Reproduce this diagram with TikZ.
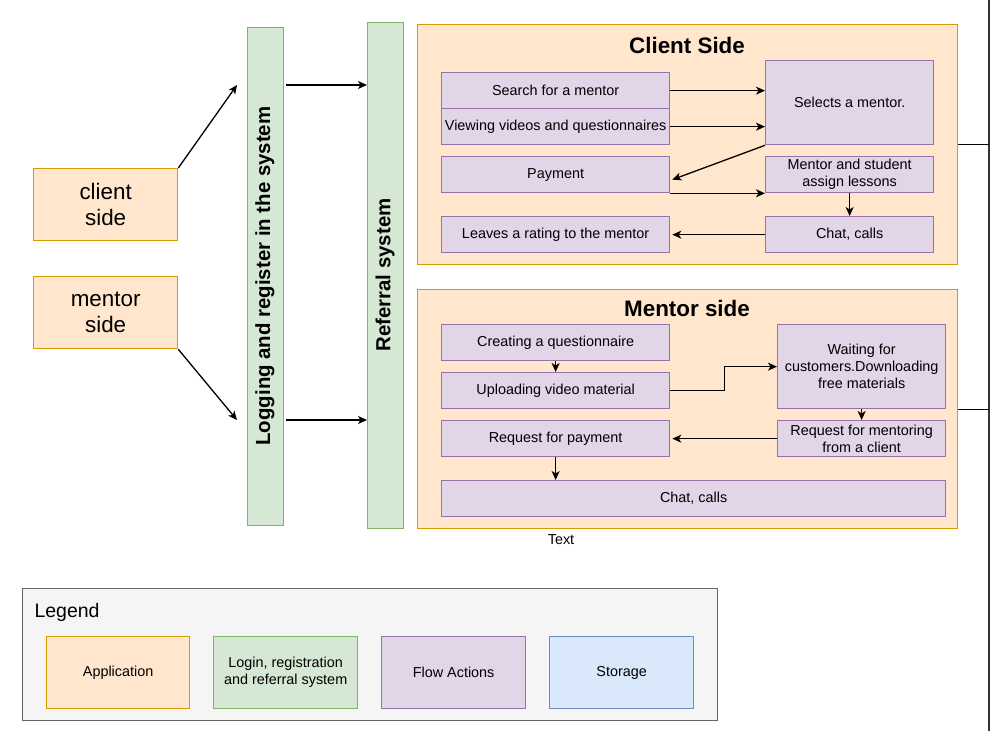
\documentclass[tikz,border=0pt]{standalone}
\usepackage{fontspec}
\setmainfont{Liberation Sans}
\usetikzlibrary{arrows.meta}
\definecolor{appfill}{HTML}{FFE6CC}
\definecolor{appline}{HTML}{D79B00}
\definecolor{logfill}{HTML}{D5E8D4}
\definecolor{logline}{HTML}{82B366}
\definecolor{flowfill}{HTML}{E1D5E7}
\definecolor{flowline}{HTML}{9673A6}
\definecolor{storefill}{HTML}{DAE8FC}
\definecolor{storeline}{HTML}{6C8EBF}
\definecolor{legfill}{HTML}{F5F5F5}
\definecolor{legline}{HTML}{666666}
\definecolor{railline}{HTML}{333333}
\newcommand{\smalltxt}{\fontsize{14.4}{17}\selectfont}
\newcommand{\bigtxt}{\fontsize{22.4}{26}\selectfont}
\tikzset{
  app/.style={draw=appline,fill=appfill,line width=1.3pt,anchor=north west,align=center,inner sep=0pt},
  login/.style={draw=logline,fill=logfill,line width=1.3pt,anchor=north west,align=center,inner sep=0pt},
  flow/.style={draw=flowline,fill=flowfill,line width=1.3pt,anchor=north west,align=center,inner sep=0pt,font=\smalltxt},
  storage/.style={draw=storeline,fill=storefill,line width=1.3pt,anchor=north west,align=center,inner sep=0pt,font=\smalltxt},
  title/.style={font=\bfseries\bigtxt},
  bartext/.style={rotate=90,font=\bfseries\fontsize{20.4}{24}\selectfont},
  link/.style={->,line width=1.3pt}
}
\begin{document}
\begin{tikzpicture}[x=1pt,y=-1pt,>={Stealth[length=9pt,width=8pt,inset=2.5pt]}]
\useasboundingbox (0,0) rectangle (991,731);
% left side
\node[app,minimum width=144pt,minimum height=72pt,font=\bigtxt] (clientbox) at (33,168) {client\\side};
\node[app,minimum width=144pt,minimum height=72pt,font=\bigtxt] (mentorbox) at (33,276) {mentor\\side};
\node[login,minimum width=36pt,minimum height=498pt] (logbar) at (247,27) {};
\node[bartext] (logtext) at (265,276) {Logging and register in the system};
\node[login,minimum width=36pt,minimum height=506pt] (refbar) at (367,22) {};
\node[bartext] (reftext) at (385,275) {Referral system};
\coordinate (cin) at (237,85);
\coordinate (min) at (237,420);
\draw[link] (clientbox.north east) -- (cin);
\draw[link] (mentorbox.south east) -- (min);
\draw[link] ([xshift=2pt]logbar.east |- cin) -- (refbar.west |- cin);
\draw[link] ([xshift=2pt]logbar.east |- min) -- (refbar.west |- min);
% client side
\node[app,minimum width=540pt,minimum height=240pt] (client) at (417,24) {};
\node[title] (clienttitle) at (687,45) {Client Side};
\node[flow,minimum width=228pt,minimum height=36pt] (search) at (441,72) {Search for a mentor};
\node[flow,minimum width=228pt,minimum height=36pt] (view) at (441,108) {Viewing videos and questionnaires};
\node[flow,minimum width=168pt,minimum height=84pt] (selects) at (765,60) {Selects a mentor.};
\node[flow,minimum width=228pt,minimum height=36pt] (payment) at (441,156) {Payment};
\node[flow,minimum width=168pt,minimum height=36pt] (assign) at (765,156) {Mentor and student\\assign lessons};
\node[flow,minimum width=168pt,minimum height=36pt] (chat) at (765,216) {Chat, calls};
\node[flow,minimum width=228pt,minimum height=36pt] (rating) at (441,216) {Leaves a rating to the mentor};
\draw[link] (search.east) -- (selects.west |- search.east);
\draw[link] (view.east) -- (selects.west |- view.east);
\draw[link] (selects.south west) -- ([xshift=2pt,yshift=-5pt]payment.east);
\draw[link] (payment.south east) -- (assign.south west);
\draw[link] (assign.south) -- (chat.north);
\draw[link] (chat.west) -- ([xshift=2pt]rating.east);
% mentor side
\node[app,minimum width=540pt,minimum height=239pt] (mentor) at (417,289) {};
\node[title] (mentortitle) at (687,308) {Mentor side};
\node[flow,minimum width=228pt,minimum height=36pt] (create) at (441,324) {Creating a questionnaire};
\node[flow,minimum width=228pt,minimum height=36pt] (upload) at (441,372) {Uploading video material};
\node[flow,minimum width=168pt,minimum height=84pt] (wait) at (777,324) {Waiting for\\customers.Downloading\\free materials};
\node[flow,minimum width=168pt,minimum height=36pt] (reqm) at (777,420) {Request for mentoring\\from a client};
\node[flow,minimum width=228pt,minimum height=36pt] (reqpay) at (441,420) {Request for payment};
\node[flow,minimum width=504pt,minimum height=36pt] (chattwo) at (441,480) {Chat, calls};
\draw[link] (create.south) -- (upload.north);
\draw[link] (upload.east) -- ++(54,0) |- (wait.west);
\draw[link] (wait.south) -- (reqm.north);
\draw[link] (reqm.west) -- ([xshift=2pt]reqpay.east);
\draw[link] (reqpay.south) -- (reqpay.south |- chattwo.north);
\node[font=\smalltxt] (textlabel) at (561,540) {Text};
% rail on the right
\coordinate (railtop) at (989,0);
\coordinate (railbot) at (989,731);
\draw[railline,line width=2.8pt] (railtop) -- (railbot);
\draw[line width=1pt] (client.east) -- (client.east -| railtop);
\draw[line width=1pt] (mentor.east) -- (mentor.east -| railtop);
% legend
\node[draw=legline,fill=legfill,line width=1.3pt,anchor=north west,minimum width=695pt,minimum height=132pt] (legend) at (22,588) {};
\node[anchor=west,font=\fontsize{19.5}{23}\selectfont] (legendtitle) at (31,612) {Legend};
\node[app,minimum width=143pt,minimum height=72pt,font=\smalltxt] (legapp) at (46,636) {Application};
\node[login,minimum width=144pt,minimum height=72pt,font=\smalltxt] (leglog) at (213,636) {Login, registration\\and referral system};
\node[flow,minimum width=144pt,minimum height=72pt] (legflow) at (381,636) {Flow Actions};
\node[storage,minimum width=144pt,minimum height=72pt] (legstore) at (549,636) {Storage};
\end{tikzpicture}
\end{document}
